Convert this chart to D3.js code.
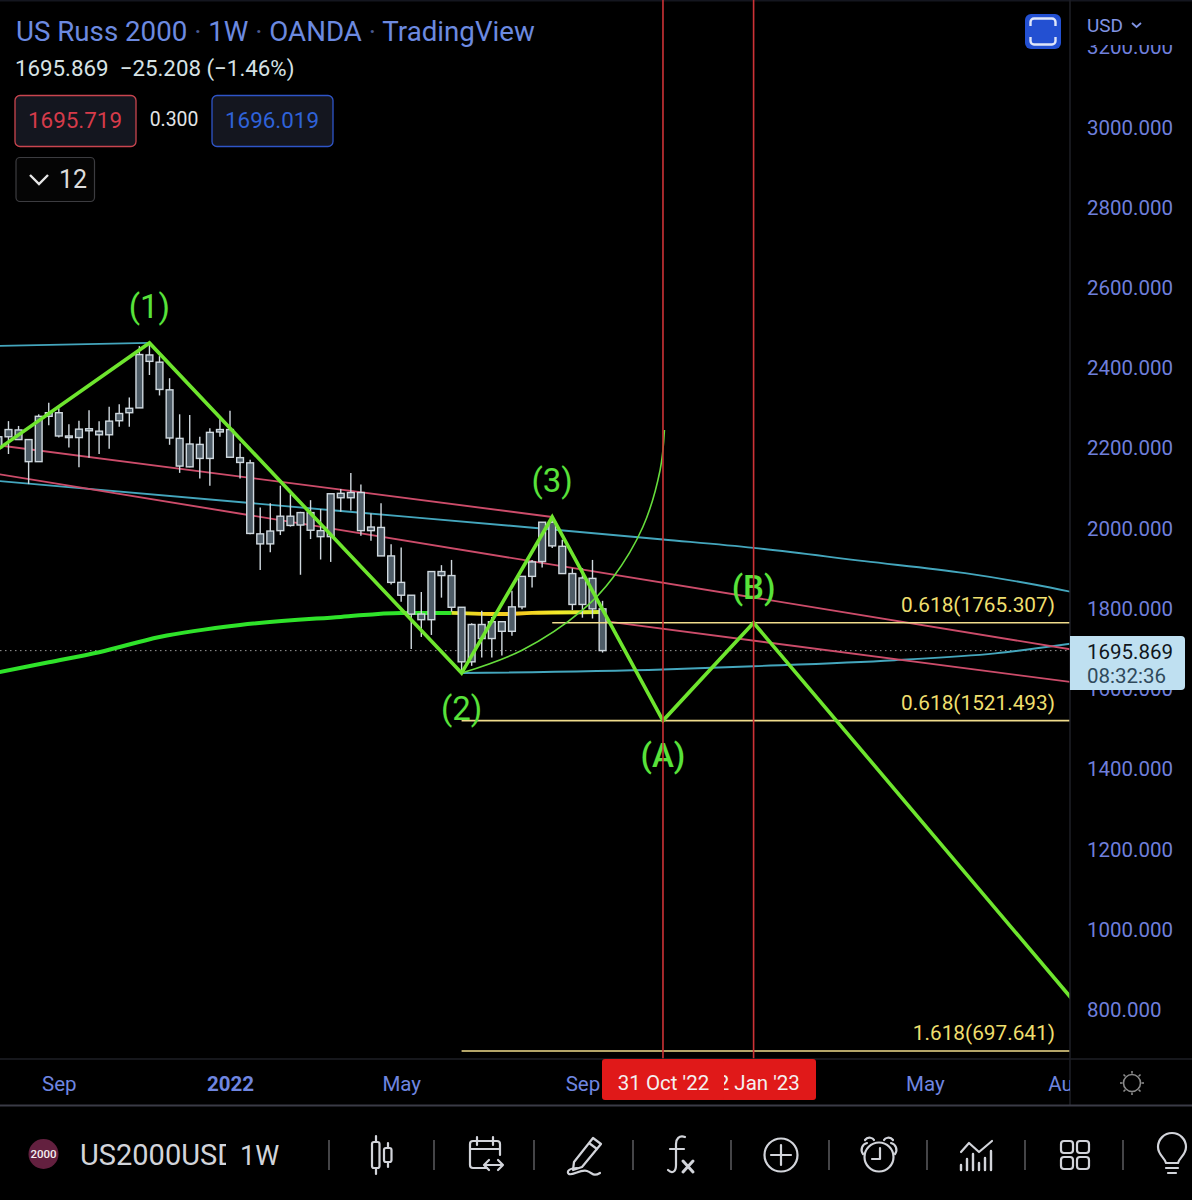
<!DOCTYPE html>
<html>
<head>
<meta charset="utf-8">
<script src="https://cdn.jsdelivr.net/npm/d3@7"></script>
<style>
  html, body { margin: 0; background: #000; }
  svg { display: block; font-family: Roboto, sans-serif; }
</style>
</head>
<body>
<svg width="1192" height="1200"></svg>
<script>
// weekly candles, first one is the week of 26 Jul 2021
const firstWeek = "2021-07-26";
const wickHigh = [2233,2268,2256,2222,2285,2314,2300,2260,2269,2295,2268,2304,2310,2327,2455,2463,2430,2375,2285,2283,2229,2250,2280,2294,2212,2172,2053,2063,2107,2086,2042,2071,2049,2087,2099,2139,2110,2038,2063,1961,1953,1834,1842,1893,1909,1922,1804,1764,1795,1780,1768,1845,1881,1922,2016,2030,1972,1901,1901,1922,1820];
const bodyHigh = [2229,2247,2246,2222,2280,2289,2289,2231,2248,2249,2243,2268,2287,2300,2434,2433,2415,2346,2225,2211,2210,2240,2247,2247,2177,2164,1987,1994,2031,2031,2040,2040,1995,2087,2088,2090,2090,2004,2003,1932,1866,1834,1787,1893,1893,1883,1804,1761,1761,1768,1768,1805,1881,1917,2016,2016,1956,1888,1877,1876,1800];
const bodyLow = [2202,2229,2222,2167,2167,2280,2231,2227,2227,2244,2234,2234,2269,2289,2301,2417,2347,2226,2156,2154,2175,2175,2241,2178,2165,1988,1962,1962,1995,2008,2009,1996,1980,1980,2077,2077,1995,1995,1932,1866,1834,1787,1773,1773,1883,1804,1668,1668,1726,1726,1744,1744,1805,1881,1918,1957,1888,1811,1811,1800,1696];
const wickLow = [2200,2186,2221,2111,2167,2258,2227,2202,2153,2177,2186,2199,2254,2254,2301,2383,2332,2209,2139,2153,2125,2107,2229,2178,2125,1986,1897,1941,1984,2005,1885,1974,1923,1917,2042,2045,1982,1970,1932,1861,1818,1700,1730,1735,1828,1793,1646,1658,1679,1679,1684,1733,1799,1853,1903,1952,1888,1797,1778,1776,1691];

// elliott wave path
const waveDates = ["2021-07-19","2021-11-08","2022-06-13","2022-08-15","2022-10-31","2023-01-02","2023-09-11"];
const wavePrices = [2181,2463,1640,2029,1521.493,1765.307,697.641];

// moving average, green part then the yellow part
const maDates = ["2021-07-26","2021-08-30","2021-10-04","2021-11-15","2022-01-10","2022-03-21","2022-05-02","2022-06-06"];
const maPrices = [1642,1667,1692,1730,1760,1780,1790,1790];
const maYellowDates = ["2022-06-06","2022-07-11","2022-08-01","2022-09-19"];
const maYellowPrices = [1790,1787,1790,1792];

// drawn trend lines
const cyanTopDates = ["2021-07-19","2021-11-08"];
const cyanTopPrices = [2455,2463];
const cyanMidDates = ["2021-07-19","2022-03-21","2022-08-15","2022-10-31","2023-01-02","2023-03-20","2023-05-29","2023-07-17","2023-08-14"];
const cyanMidPrices = [2121,2044,1998,1973,1952,1919,1889,1860,1840];
const cyanLowDates = ["2022-06-13","2022-10-31","2023-01-02","2023-04-10","2023-06-19","2023-08-14"];
const cyanLowPrices = [1640,1649,1657,1672,1689,1715];
const redUpperDates = ["2021-07-19","2022-08-15"];
const redUpperPrices = [2211,2029];
const redLowerDates = ["2021-07-19","2023-08-14"];
const redLowerPrices = [2140,1697];
const redThirdDates = ["2022-09-19","2023-08-14"];
const redThirdPrices = [1770,1616];
const arcDates = ["2022-06-13","2022-07-25","2022-09-05","2022-09-26","2022-10-17","2022-10-29","2022-11-01"];
const arcPrices = [1640,1697,1797,1877,2004,2146,2246];

// fib levels
const fibLabels = ["0.618(1765.307)","0.618(1521.493)","1.618(697.641)"];
const fibPrices = [1765.307,1521.493,697.641];
const fibStart = ["2022-08-15","2022-06-13","2022-06-13"];

// wave labels
const waveLabels = ["(1)","(2)","(3)","(A)","(B)"];
const waveLabelDates = ["2021-11-08","2022-06-13","2022-08-15","2022-10-31","2023-01-02"];
const waveLabelPrices = [2525,1522,2091,1405,1825];

const verticalDates = ["2022-10-31","2023-01-02"];
const lastPrice = 1695.869;

const priceTicks = [800,1000,1200,1400,1600,1800,2000,2200,2400,2600,2800,3000,3200];
const timeTicks = ["2021-09-06","2022-01-03","2022-05-02","2022-09-05","2023-05-01","2023-08-07"];
const timeTickLabels = ["Sep","2022","May","Sep","May","Aug"];

const parse = d3.utcParse("%Y-%m-%d");
const svg = d3.select("svg");
const plotW = 1070, plotH = 1059;

const x = d3.scaleUtc().domain([parse("2022-01-03"), parse("2023-01-02")]).range([230, 753.6]);
const y = d3.scaleLinear().domain([800, 3000]).range([1010, 127.5]);

const defs = svg.append("defs");
defs.append("clipPath").attr("id", "plot").append("rect").attr("width", plotW).attr("height", plotH);
defs.append("clipPath").attr("id", "priceClip").append("rect").attr("x", 1071).attr("y", 45).attr("width", 121).attr("height", 1014);
defs.append("clipPath").attr("id", "timeClip").append("rect").attr("x", 0).attr("y", 1060).attr("width", plotW).attr("height", 45);
defs.append("clipPath").attr("id", "symClip").append("rect").attr("x", 70).attr("y", 1130).attr("width", 156).attr("height", 50);
const grad = defs.append("linearGradient").attr("id", "maGrad")
  .attr("gradientUnits", "userSpaceOnUse").attr("x1", 448).attr("x2", 606).attr("y1", 0).attr("y2", 0);
[[0, "#d8e82a"], [0.2, "#f2d522"], [0.45, "#f4c920"], [0.7, "#f4ec2a"], [1, "#c8e830"]].forEach(s =>
  grad.append("stop").attr("offset", s[0]).attr("stop-color", s[1]));

svg.append("rect").attr("width", 1192).attr("height", 1200).attr("fill", "#000");
svg.append("rect").attr("width", 1192).attr("height", 1.5).attr("fill", "#14161f");

const plot = svg.append("g").attr("clip-path", "url(#plot)");

const pathOf = (dates, prices, curve) => d3.line()
  .x(d => x(parse(d)))
  .y((d, i) => y(prices[i]))
  .curve(curve || d3.curveLinear)(dates);

const addLine = (dates, prices, color, width, curve) => plot.append("path")
  .attr("d", pathOf(dates, prices, curve))
  .attr("fill", "none")
  .attr("stroke", color)
  .attr("stroke-width", width);

// dotted last price line
plot.append("line")
  .attr("x1", 0).attr("x2", plotW)
  .attr("y1", y(lastPrice)).attr("y2", y(lastPrice))
  .attr("stroke", "#9a9a9a").attr("stroke-width", 1).attr("stroke-dasharray", "1.5 3.5");

addLine(cyanTopDates, cyanTopPrices, "#44a6bd", 1.9);
addLine(cyanMidDates, cyanMidPrices, "#44a6bd", 1.9, d3.curveMonotoneX);
addLine(cyanLowDates, cyanLowPrices, "#44a6bd", 1.9, d3.curveMonotoneX);
addLine(redUpperDates, redUpperPrices, "#cc4c6a", 1.9);
addLine(redLowerDates, redLowerPrices, "#cc4c6a", 1.9);
addLine(redThirdDates, redThirdPrices, "#cc4c6a", 1.9);

// moving average sits under the candles
addLine(maDates, maPrices, "#2fe32a", 4, d3.curveMonotoneX);
addLine(maYellowDates, maYellowPrices, "url(#maGrad)", 4, d3.curveMonotoneX);

// candles
const candleDates = wickHigh.map((d, i) => d3.utcMonday.offset(parse(firstWeek), i));
const candles = plot.append("g").selectAll("g")
  .data(candleDates)
  .join("g");
candles.append("line")
  .attr("x1", d => x(d)).attr("x2", d => x(d))
  .attr("y1", (d, i) => y(wickHigh[i])).attr("y2", (d, i) => y(wickLow[i]))
  .attr("stroke", "#cfd8de").attr("stroke-width", 1.4);
candles.append("rect")
  .attr("x", d => x(d) - 3.4).attr("width", 6.8)
  .attr("y", (d, i) => y(bodyHigh[i]))
  .attr("height", (d, i) => Math.max(1.5, y(bodyLow[i]) - y(bodyHigh[i])))
  .attr("fill", "#4e5c67").attr("stroke", "#cfd8de").attr("stroke-width", 1.4);

// fib levels
plot.selectAll("line.fib")
  .data(fibPrices)
  .join("line")
  .attr("class", "fib")
  .attr("x1", (d, i) => x(parse(fibStart[i]))).attr("x2", plotW)
  .attr("y1", d => y(d)).attr("y2", d => y(d))
  .attr("stroke", "#f0dc8c").attr("stroke-width", 1.6);
plot.selectAll("text.fib")
  .data(fibLabels)
  .join("text")
  .attr("class", "fib")
  .attr("x", 1055)
  .attr("y", (d, i) => y(fibPrices[i]) - 11)
  .attr("text-anchor", "end")
  .attr("fill", "#efdf6e")
  .attr("font-size", 20.8)
  .text(d => d);

// wave and arc on top
addLine(arcDates, arcPrices, "#66dd3c", 1.6, d3.curveCatmullRom);
addLine(waveDates, wavePrices, "#6ee52e", 3.6);

plot.selectAll("text.wave")
  .data(waveLabels)
  .join("text")
  .attr("class", "wave")
  .attr("x", (d, i) => x(parse(waveLabelDates[i])))
  .attr("y", (d, i) => y(waveLabelPrices[i]))
  .attr("text-anchor", "middle")
  .attr("fill", "#58e23a")
  .attr("font-size", 33)
  .attr("font-weight", d => (d === "(A)" || d === "(B)") ? 500 : 400)
  .text(d => d);

// vertical date lines run over the labels
plot.selectAll("line.vert")
  .data(verticalDates)
  .join("line")
  .attr("class", "vert")
  .attr("x1", d => x(parse(d))).attr("x2", d => x(parse(d)))
  .attr("y1", 0).attr("y2", plotH)
  .attr("stroke", "#cc3236").attr("stroke-width", 1.6);

// price axis
svg.append("line").attr("x1", 1070).attr("x2", 1070).attr("y1", 0).attr("y2", 1105).attr("stroke", "#1e1f26").attr("stroke-width", 1.5);
const priceAxis = svg.append("g")
  .attr("clip-path", "url(#priceClip)")
  .append("g")
  .attr("transform", "translate(1087,0)")
  .call(d3.axisRight(y).tickValues(priceTicks).tickSize(0).tickPadding(0).tickFormat(d3.format(".3f")));
priceAxis.select(".domain").remove();
priceAxis.selectAll("text")
  .attr("fill", "#6f7fdc").attr("font-size", 20.5).attr("font-family", "Roboto, sans-serif");

// time axis
svg.append("line").attr("x1", 0).attr("x2", 1192).attr("y1", 1059).attr("y2", 1059).attr("stroke", "#1e1f26").attr("stroke-width", 1.5);
svg.append("line").attr("x1", 0).attr("x2", 1192).attr("y1", 1105.5).attr("y2", 1105.5).attr("stroke", "#3a3b46").attr("stroke-width", 2);
const timeAxis = svg.append("g")
  .attr("clip-path", "url(#timeClip)")
  .append("g")
  .attr("transform", "translate(0,1076)")
  .call(d3.axisBottom(x).tickValues(timeTicks.map(parse)).tickSize(0).tickPadding(0)
    .tickFormat((d, i) => timeTickLabels[i]));
timeAxis.select(".domain").remove();
timeAxis.selectAll("text")
  .attr("fill", "#6f86e0").attr("font-size", 20.5).attr("font-family", "Roboto, sans-serif")
  .attr("font-weight", (d, i) => timeTickLabels[i] === "2022" ? 700 : 400);

// red date flags on the time axis, second one is behind the first
svg.append("rect").attr("x", 700).attr("y", 1059).attr("width", 116).attr("height", 41).attr("rx", 3).attr("fill", "#e01919");
svg.append("text").attr("x", 753).attr("y", 1090).attr("text-anchor", "middle").attr("fill", "#f4f0f0").attr("font-size", 20.5).text("02 Jan '23");
svg.append("rect").attr("x", 602).attr("y", 1059).attr("width", 122).attr("height", 41).attr("rx", 3).attr("fill", "#e01919");
svg.append("text").attr("x", 663.5).attr("y", 1090).attr("text-anchor", "middle").attr("fill", "#f4f0f0").attr("font-size", 20.5).text("31 Oct '22");

// last price tag
svg.append("path").attr("d", "M1070,636H1181a4,4 0 0 1 4,4V686a4,4 0 0 1 -4,4H1070Z").attr("fill", "#bfe0f1");
svg.append("text").attr("x", 1087).attr("y", 659).attr("fill", "#10161c").attr("font-size", 20.5).text("1695.869");
svg.append("text").attr("x", 1087).attr("y", 683).attr("fill", "#2f4a5c").attr("font-size", 20.5).text("08:32:36");

// header
const title = svg.append("text").attr("x", 16).attr("y", 41).attr("font-size", 27.7).attr("fill", "#6c8ae0");
["US Russ 2000", " · ", "1W", " · ", "OANDA", " · ", "TradingView"].forEach(t =>
  title.append("tspan").attr("fill", t === " · " ? "#4a5a90" : "#6c8ae0").text(t));
svg.append("text").attr("x", 15).attr("y", 76).attr("font-size", 22.3).attr("fill", "#d6e2e4").attr("xml:space", "preserve").text("1695.869  −25.208 (−1.46%)");

svg.append("rect").attr("x", 15).attr("y", 95.5).attr("width", 121).attr("height", 51).attr("rx", 5).attr("fill", "#14161f").attr("stroke", "#c9454f").attr("stroke-width", 1.3);
svg.append("text").attr("x", 75).attr("y", 128).attr("text-anchor", "middle").attr("font-size", 22.4).attr("fill", "#d63b4a").text("1695.719");
svg.append("text").attr("x", 174).attr("y", 126).attr("text-anchor", "middle").attr("font-size", 19.4).attr("fill", "#e2e4e6").text("0.300");
svg.append("rect").attr("x", 212).attr("y", 95.5).attr("width", 121).attr("height", 51).attr("rx", 5).attr("fill", "#14161f").attr("stroke", "#2f55c8").attr("stroke-width", 1.3);
svg.append("text").attr("x", 272).attr("y", 128).attr("text-anchor", "middle").attr("font-size", 22.4).attr("fill", "#2f62d8").text("1696.019");

svg.append("rect").attr("x", 16).attr("y", 157.5).attr("width", 78.5).attr("height", 44).attr("rx", 4).attr("fill", "#050505").attr("stroke", "#3c3c40").attr("stroke-width", 1.2);
svg.append("path").attr("d", "M30,175L39,184L48,175").attr("fill", "none").attr("stroke", "#e6e6e6").attr("stroke-width", 2.4);
svg.append("text").attr("x", 73).attr("y", 188).attr("text-anchor", "middle").attr("font-size", 25).attr("fill", "#dcdcdc").text("12");

// fullscreen button and currency
svg.append("rect").attr("x", 1025).attr("y", 14).attr("width", 36).attr("height", 35).attr("rx", 6).attr("fill", "#2350d2");
svg.append("path").attr("d", "M1030.5,26V22a3.5,3.5 0 0 1 3.5,-3.5H1052a3.5,3.5 0 0 1 3.5,3.5V26M1030.5,37V41a3.5,3.5 0 0 0 3.5,3.5H1052a3.5,3.5 0 0 0 3.5,-3.5V37")
  .attr("fill", "none").attr("stroke", "#dfe6fa").attr("stroke-width", 2.4);
svg.append("text").attr("x", 1087).attr("y", 32).attr("font-size", 19).attr("fill", "#8094e4").text("USD");
svg.append("path").attr("d", "M1132,23L1136.5,27L1141,23").attr("fill", "none").attr("stroke", "#8094e4").attr("stroke-width", 1.8);

// sun icon
const sun = svg.append("g").attr("transform", "translate(1132,1083)").attr("fill", "none").attr("stroke", "#8a8a8a").attr("stroke-width", 1.6);
sun.append("circle").attr("r", 8.5);
d3.range(0, 360, 45).forEach(a => sun.append("line").attr("y1", -9.5).attr("y2", -12).attr("transform", `rotate(${a})`));

// bottom toolbar
svg.append("circle").attr("cx", 43.5).attr("cy", 1154).attr("r", 15).attr("fill", "#63203f");
svg.append("text").attr("x", 43.5).attr("y", 1158).attr("text-anchor", "middle").attr("font-size", 11.5).attr("font-weight", 500).attr("fill", "#f4eef0").text("2000");
svg.append("text").attr("x", 80).attr("y", 1165).attr("clip-path", "url(#symClip)").attr("font-size", 29).attr("fill", "#d2d4da").text("US2000USD");
svg.append("text").attr("x", 240).attr("y", 1165).attr("font-size", 27).attr("fill", "#d2d4da").text("1W");

const toolbarSeps = [329, 434, 534, 633, 731, 829, 927, 1025, 1123];
svg.selectAll("line.sep")
  .data(toolbarSeps)
  .join("line")
  .attr("class", "sep")
  .attr("x1", d => d).attr("x2", d => d)
  .attr("y1", 1140).attr("y2", 1170)
  .attr("stroke", "#6a6a6e").attr("stroke-width", 1.3);

const icon = (cx, cy) => svg.append("g")
  .attr("transform", `translate(${cx},${cy})`)
  .attr("fill", "none").attr("stroke", "#d2d4da").attr("stroke-width", 2.2)
  .attr("stroke-linecap", "round").attr("stroke-linejoin", "round");

let ic = icon(383, 1155); // candles
ic.append("path").attr("d", "M-7,-19V-13M-7,13V19M5,-12V-7M5,7V12");
ic.append("rect").attr("x", -11).attr("y", -13).attr("width", 7.5).attr("height", 26).attr("rx", 2);
ic.append("rect").attr("x", 1).attr("y", -7).attr("width", 7.5).attr("height", 14).attr("rx", 2);

ic = icon(485, 1155); // calendar
ic.append("path").attr("d", "M2,13H-12a3,3 0 0 1 -3,-3V-11a3,3 0 0 1 3,-3H12a3,3 0 0 1 3,3V0M-15,-6H15M-8,-18V-10M8,-18V-10");
ic.append("path").attr("d", "M0,10H18M4,5L-1,10L4,15M13,5L18,10L13,15");

ic = icon(585, 1155); // pencil
ic.append("path").attr("d", "M-11,7L8,-17L16,-11L-3,12L-12,15Z M4,-12L12,-6");
ic.append("path").attr("d", "M-8,13C-16,13 -19,17 -16,19C-13,21 -4,14 2,16C8,18 8,22 15,18");

ic = icon(682, 1155); // fx
ic.append("path").attr("d", "M3,-18C-3,-20 -6,-16 -6,-11V10C-6,17 -10,19 -14,15M-12,-6H2");
ic.append("path").attr("d", "M1,6L11,17M11,6L1,17").attr("stroke-width", 3);

ic = icon(781, 1155); // add
ic.append("circle").attr("r", 16.5);
ic.append("path").attr("d", "M-10,0H10M0,-10V10");

ic = icon(879, 1155); // alarm
ic.append("circle").attr("cy", 2).attr("r", 14.5);
ic.append("path").attr("d", "M1,-7V4H-7");
ic.append("path").attr("d", "M-12,-12A7,7 0 0 0 -16,-1M-14,-15C-11,-19 -6,-17 -5,-15M12,-12A7,7 0 0 1 16,-1M14,-15C11,-19 6,-17 5,-15");

ic = icon(977, 1155); // chart
ic.append("path").attr("d", "M-16,-3L-8,-12L2,-3L15,-14");
ic.append("path").attr("d", "M-16,15V10M-10,15V4M-4,15V-1M2,15V8M8,15V3M14,15V-4").attr("stroke-width", 2.4);

ic = icon(1075, 1155); // grid
[[-14, -14], [2, -14], [-14, 2], [2, 2]].forEach(p =>
  ic.append("rect").attr("x", p[0]).attr("y", p[1]).attr("width", 12).attr("height", 12).attr("rx", 3));

ic = icon(1172, 1155); // bulb
ic.append("path").attr("d", "M-6,8C-7,3 -14,0 -14,-8A14,14 0 0 1 14,-8C14,0 7,3 6,8Z");
ic.append("path").attr("d", "M-6,13H6M-4,18H4");
</script>
</body>
</html>
